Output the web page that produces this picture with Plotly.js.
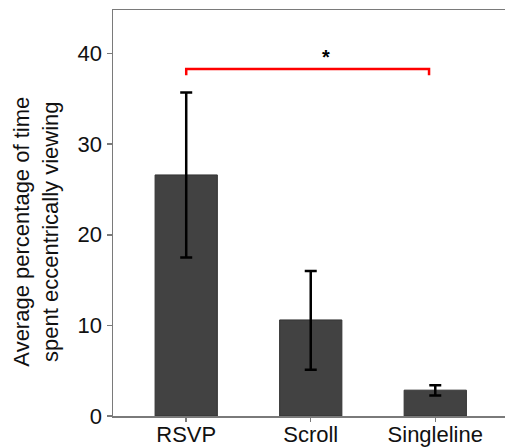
<!DOCTYPE html>
<html>
<head>
<meta charset="utf-8">
<script src="https://cdn.plot.ly/plotly-3.0.1.min.js"></script>
<style>html,body{margin:0;padding:0;background:#fff;}#chart{width:505px;height:447px;}</style>
</head>
<body>
<div id="chart"></div>
<script>
const categories = ["RSVP", "Scroll", "Singleline"];
const means = [26.6, 10.6, 2.85];
const errUpper = [35.7, 16.0, 3.4];
const errLower = [17.5, 5.1, 2.25];
const yTicks = [0, 10, 20, 30, 40];
const sigBracketX = [0, 1.95];
const sigBracketY = 38.3;
const sigBracketDrop = 37.6;
const sigLabel = "*";
const yTitle = "Average percentage of time<br>spent eccentrically viewing";

const plus = means.map((m, i) => errUpper[i] - m);
const minus = means.map((m, i) => m - errLower[i]);

const trace = {
  type: "bar",
  x: [0, 1, 2],
  y: means,
  width: 0.5,
  marker: {color: "#424242", line: {color: "#333333", width: 1}},
  error_y: {type: "data", symmetric: false, array: plus, arrayminus: minus,
            color: "#000000", thickness: 2.5, width: 6},
  hoverinfo: "none"
};

const font = "Liberation Sans, Arial, Helvetica, sans-serif";
const layout = {
  width: 505, height: 447,
  margin: {l: 113, r: 0, t: 10, b: 31},
  paper_bgcolor: "#ffffff", plot_bgcolor: "#ffffff",
  showlegend: false,
  font: {family: font, color: "#000000"},
  xaxis: {
    range: [-0.588, 2.56],
    tickvals: [0, 1, 2], ticktext: categories,
    showline: true, linecolor: "#7a7a7a", linewidth: 1.5, mirror: true,
    ticks: "outside", ticklen: 4, tickcolor: "#7a7a7a", tickwidth: 1.5,
    ticklabelstandoff: -6,
    tickfont: {size: 22, family: font, color: "#111"},
    showgrid: false, zeroline: false, automargin: false, fixedrange: true
  },
  yaxis: {
    range: [0, 44.8],
    tickvals: yTicks,
    showline: true, linecolor: "#7a7a7a", linewidth: 1.5,
    ticks: "outside", ticklen: 5, tickcolor: "#7a7a7a", tickwidth: 1.5,
    tickfont: {size: 22, family: font, color: "#111"},
    showgrid: false, zeroline: false, automargin: false, fixedrange: true
  },
  shapes: [{
    type: "path", xref: "x", yref: "y",
    path: "M " + sigBracketX[0] + "," + sigBracketDrop + " L " + sigBracketX[0] + "," + sigBracketY +
          " L " + sigBracketX[1] + "," + sigBracketY + " L " + sigBracketX[1] + "," + sigBracketDrop,
    line: {color: "#ff0000", width: 2.5}
  }],
  annotations: [
    {x: (sigBracketX[0] + sigBracketX[1]) / 2 + 0.15, y: sigBracketY, xref: "x", yref: "y",
     text: "<b>" + sigLabel + "</b>", showarrow: false, yanchor: "bottom", yshift: -1,
     font: {size: 20, family: font, color: "#000"}},
    {x: -0.195, y: 0.453, xref: "paper", yref: "paper", text: yTitle, showarrow: false,
     textangle: -90, xanchor: "center", yanchor: "middle",
     font: {size: 22, family: font, color: "#111"}}
  ]
};

Plotly.newPlot("chart", [trace], layout, {displayModeBar: false, staticPlot: true});
</script>
</body>
</html>
